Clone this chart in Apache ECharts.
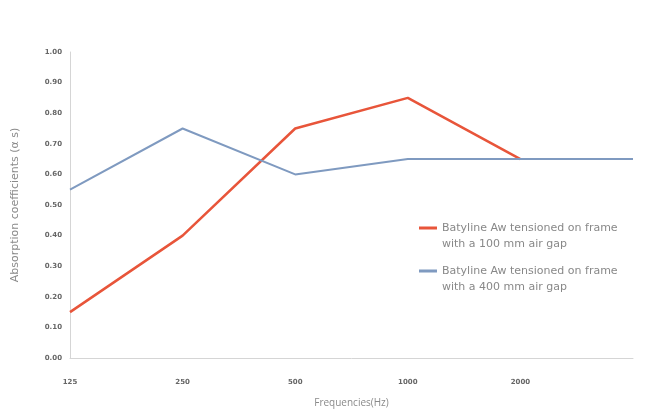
<!DOCTYPE html>
<html><head><meta charset="utf-8">
<script src="https://cdn.jsdelivr.net/npm/echarts@6/dist/echarts.min.js"></script>
<style>html,body{margin:0;padding:0;background:#fff;}#c{width:650px;height:410px;}</style>
</head><body><div id="c"></div>
<script>
const categories = ['125', '250', '500', '1000', '2000', ''];
const yTicks = ['0.00','0.10','0.20','0.30','0.40','0.50','0.60','0.70','0.80','0.90','1.00'];
const series100Name = 'Batyline Aw tensioned on frame\nwith a 100 mm air gap';
const series400Name = 'Batyline Aw tensioned on frame\nwith a 400 mm air gap';
const series100 = [0.15, 0.40, 0.75, 0.85, 0.65, null];
const series400 = [0.55, 0.75, 0.60, 0.65, 0.65, 0.65];

const legendIcon = 'path://M0,0 H18 V3 H0 Z M0,19 H0.01 V19.01 H0 Z';

const chart = echarts.init(document.getElementById('c'));
chart.setOption({
  animation: false,
  grid: { left: 70, right: 17, top: 52, bottom: 52, containLabel: false, outerBoundsMode: 'none' },
  legend: {
    orient: 'vertical', left: 414, top: 215, itemGap: 11,
    itemWidth: 18, itemHeight: 19, icon: legendIcon,
    textStyle: { color: '#888', fontSize: 11, lineHeight: 16, fontFamily: 'DejaVu Sans' },
    data: [series100Name, series400Name]
  },
  xAxis: {
    type: 'category', data: categories, boundaryGap: false,
    name: 'Frequencies(Hz)', nameLocation: 'middle', nameGap: 40,
    nameTextStyle: { color: '#8a8a8a', fontSize: 10, fontFamily: 'Open Sans' },
    axisLine: { lineStyle: { color: '#d5d5d5', width: 1 } },
    axisTick: { show: false },
    axisLabel: { color: '#666', fontSize: 7, fontWeight: 'bold', margin: 21, fontFamily: 'DejaVu Sans' },
    splitLine: { show: false }
  },
  yAxis: {
    type: 'value', min: 0, max: 1, interval: 0.1,
    name: 'Absorption coefficients (\u03b1 s)', nameLocation: 'middle', nameGap: 49,
    nameTextStyle: { color: '#8a8a8a', fontSize: 11, fontFamily: 'DejaVu Sans' },
    axisLine: { show: true, lineStyle: { color: '#d5d5d5', width: 1 } },
    axisTick: { show: false },
    axisLabel: { color: '#666', fontSize: 7, fontWeight: 'bold', margin: 8, fontFamily: 'DejaVu Sans',
      formatter: function (v) { return yTicks[Math.round(v * 10)]; } },
    splitLine: { show: false }
  },
  series: [
    { name: series100Name, type: 'line', data: series100, symbol: 'none',
      lineStyle: { color: '#e8553a', width: 2.5 }, itemStyle: { color: '#e8553a' } },
    { name: series400Name, type: 'line', data: series400, symbol: 'none',
      lineStyle: { color: '#7f9ac0', width: 2 }, itemStyle: { color: '#7f9ac0' } }
  ]
});
</script></body></html>
